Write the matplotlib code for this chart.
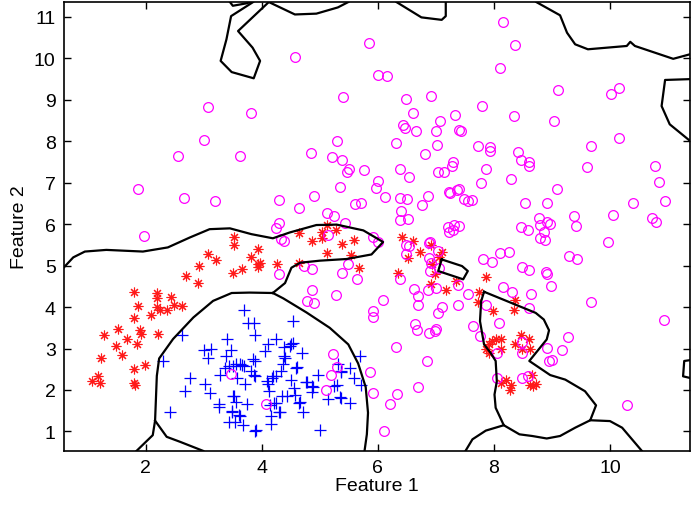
import matplotlib
matplotlib.use("Agg")
import matplotlib.pyplot as plt
import numpy as np

matplotlib.rcParams["font.family"] = ["Liberation Sans", "DejaVu Sans"]

# Class 1 (blue +)
blue_x = [3.70, 2.63, 2.30, 2.77, 2.68, 2.41, 3.00, 3.12, 3.07, 3.28, 3.02, 3.10, 3.26, 3.26,
          3.40, 3.46, 3.38, 3.43, 3.51, 3.57, 3.49, 3.52, 3.55, 3.61, 3.44, 3.54, 3.68, 3.63,
          3.69, 3.71, 3.75, 3.76, 3.87, 3.88, 3.88, 3.88, 3.81, 3.90, 4.06, 4.11, 4.24, 4.09,
          4.11, 4.13, 4.16, 4.16, 4.31, 4.24, 4.18, 4.24, 4.33, 4.34, 4.43, 4.38, 4.38, 4.36,
          4.48, 4.53, 4.51, 4.53, 4.59, 4.51, 4.56, 4.57, 4.66, 4.71, 4.70, 4.76, 4.86, 4.86,
          4.97, 5.00, 5.14, 5.25, 5.34, 5.36, 5.69, 5.52, 5.37, 5.31, 5.59, 5.71, 5.30, 5.37,
          5.52, 4.89, 4.40, 3.36, 3.55, 3.65, 3.85, 3.87, 3.51, 3.49, 3.62, 3.88, 4.20, 4.14,
          4.21, 4.30, 4.60, 4.64, 4.78]
blue_y = [3.94, 3.32, 2.70, 2.28, 1.97, 1.48, 2.97, 2.99, 2.78, 2.36, 2.14, 1.92, 1.66, 1.58,
          3.23, 2.97, 2.82, 2.57, 2.58, 2.29, 1.46, 1.86, 1.70, 1.40, 1.22, 1.22, 1.15, 2.62,
          2.58, 2.14, 1.66, 3.61, 3.61, 3.32, 2.70, 2.34, 2.46, 1.03, 2.94, 3.12, 3.24, 2.22,
          2.15, 1.98, 1.38, 1.18, 1.46, 1.68, 2.30, 2.34, 2.46, 1.86, 1.86, 3.04, 2.82, 2.62,
          3.06, 3.67, 3.10, 3.13, 2.54, 2.24, 2.04, 1.88, 1.71, 1.47, 2.89, 2.20, 2.09, 1.94,
          2.36, 1.03, 1.78, 2.09, 1.82, 2.44, 2.82, 2.53, 2.45, 2.62, 2.29, 2.11, 2.11, 1.81,
          1.68, 2.07, 2.77, 2.53, 2.62, 2.60, 2.74, 2.37, 1.85, 1.49, 1.37, 1.02, 2.33, 1.63,
          1.69, 1.47, 2.55, 1.69, 2.19]

# Class 2 (red *)
red_x = [3.07, 3.21, 2.91, 2.69, 2.90, 1.79, 2.20, 2.19, 2.44, 1.86, 2.19, 2.09, 2.25, 2.37,
         2.49, 2.62, 1.80, 1.52, 1.90, 1.92, 2.21, 1.28, 1.68, 1.49, 1.84, 1.59, 1.22, 1.98,
         1.79, 1.17, 1.07, 1.21, 1.80, 1.81, 3.52, 3.52, 3.94, 3.81, 3.97, 3.94, 3.65, 3.51,
         4.26, 4.64, 4.64, 4.87, 5.03, 5.03, 5.12, 5.27, 5.38, 5.59, 5.12, 5.53, 5.68, 3.94,
         6.41, 6.60, 6.72, 6.52, 6.91, 7.10, 7.06, 6.94, 6.98, 6.91, 7.17, 7.34, 6.34, 7.87,
         7.75, 7.72, 7.99, 8.37, 8.35, 7.97, 8.03, 8.12, 7.92, 7.86, 7.91, 8.13, 8.46, 8.61,
         8.37, 8.49, 8.62, 8.13, 8.21, 8.29, 8.28, 8.65, 8.63, 8.72, 8.68]
red_y = [5.29, 5.13, 4.99, 4.75, 4.57, 4.37, 4.34, 4.21, 4.24, 4.02, 4.00, 3.82, 3.92, 3.92,
         4.05, 4.02, 3.74, 3.46, 3.44, 3.34, 3.35, 3.32, 3.22, 3.07, 3.11, 2.84, 2.76, 2.60,
         2.50, 2.33, 2.21, 2.16, 2.17, 2.11, 5.69, 5.49, 5.39, 5.20, 5.07, 4.97, 4.92, 4.83,
         5.04, 5.07, 5.78, 5.59, 5.81, 5.66, 5.98, 5.87, 5.52, 5.63, 5.31, 5.25, 4.95, 5.03,
         5.69, 5.59, 5.32, 5.19, 5.49, 5.32, 5.21, 5.03, 4.80, 4.55, 4.41, 4.63, 4.83, 4.72,
         4.37, 4.13, 3.90, 4.17, 3.94, 3.19, 3.22, 3.24, 3.10, 2.98, 2.90, 2.98, 3.32, 3.24,
         3.11, 2.99, 2.98, 2.16, 2.23, 2.13, 2.01, 2.37, 2.12, 2.14, 2.10]

# Class 3 (magenta o)
mag_x = [3.07, 3.00, 2.56, 1.86, 2.66, 3.19, 4.57, 5.40, 3.82, 5.30, 4.84, 5.21, 5.38, 5.46,
         3.62, 5.34, 4.90, 4.29, 4.64, 5.13, 5.24, 5.43, 4.24, 4.30, 4.33, 4.38, 5.14, 1.97,
         5.84, 6.00, 6.15, 5.50, 5.76, 6.00, 5.96, 5.60, 5.71, 8.15, 8.37, 8.10, 6.49, 6.91,
         6.61, 7.33, 7.80, 8.35, 9.10, 9.03, 10.02, 10.16, 10.16, 9.68, 6.44, 6.47, 6.65, 7.07,
         7.01, 7.40, 7.44, 6.31, 7.02, 6.81, 7.73, 7.93, 7.93, 8.41, 8.47, 8.61, 8.61, 9.61,
         10.78, 10.85, 10.95, 10.39, 10.05, 10.72, 10.80, 9.97, 9.08, 8.30, 7.86, 7.77, 7.30, 7.28,
         7.04, 7.14, 6.53, 6.38, 6.12, 6.38, 6.51, 6.39, 6.38, 6.52, 6.76, 6.87, 7.22, 7.24,
         7.36, 7.39, 7.48, 7.56, 7.63, 5.92, 6.00, 7.20, 7.31, 7.39, 7.22, 7.30, 6.90, 6.53,
         8.47, 8.59, 8.78, 8.91, 8.97, 8.79, 8.86, 8.80, 8.88, 9.38, 9.41, 8.53, 8.91, 7.81,
         7.97, 8.10, 8.26, 9.29, 9.43, 4.30, 4.72, 4.87, 5.49, 5.39, 5.64, 4.87, 5.28, 4.78,
         4.90, 5.92, 5.92, 5.23, 5.29, 5.20, 5.10, 5.86, 5.92, 4.08, 3.47, 6.48, 6.49, 6.88,
         7.03, 6.88, 6.91, 6.90, 7.05, 6.38, 8.48, 8.61, 7.38, 6.86, 7.00, 6.62, 6.70, 6.70,
         6.09, 7.56, 7.38, 7.11, 7.03, 7.86, 8.15, 8.32, 8.64, 8.61, 6.64, 6.68, 6.88, 6.99,
         7.01, 7.64, 7.76, 8.09, 6.31, 6.84, 6.70, 6.33, 6.21, 6.10, 8.05, 8.49, 8.05, 8.49,
         8.58, 8.49, 8.91, 9.00, 8.95, 9.17, 9.28, 9.68, 10.93, 10.30, 8.91, 8.99, 8.90]
mag_y = [8.82, 8.03, 7.65, 6.84, 6.63, 6.55, 10.04, 9.08, 8.68, 8.01, 7.71, 7.62, 7.54, 7.25,
         7.65, 6.89, 6.67, 6.59, 6.40, 6.28, 6.20, 6.04, 5.92, 6.02, 5.65, 5.60, 5.73, 5.71,
         10.37, 9.61, 9.58, 7.33, 7.30, 7.05, 6.87, 6.48, 6.50, 10.88, 10.33, 9.78, 9.02, 9.10,
         8.69, 8.64, 8.86, 8.60, 9.24, 8.49, 9.14, 9.28, 8.09, 7.89, 8.40, 8.33, 8.25, 8.49,
         8.25, 8.27, 8.25, 7.95, 7.90, 7.69, 7.89, 7.87, 7.77, 7.74, 7.54, 7.51, 7.41, 7.39,
         7.41, 7.03, 6.56, 6.51, 6.22, 6.16, 6.06, 5.58, 6.86, 7.09, 7.33, 6.99, 7.49, 7.41,
         7.27, 7.27, 7.13, 7.33, 6.66, 6.63, 6.60, 6.32, 6.10, 6.12, 6.46, 6.67, 6.78, 6.75,
         6.83, 6.84, 6.60, 6.56, 6.58, 5.70, 5.56, 5.93, 5.99, 5.95, 5.80, 5.85, 5.57, 5.48,
         5.94, 5.86, 6.16, 6.06, 6.00, 5.98, 5.80, 5.66, 5.62, 6.20, 5.96, 6.51, 6.51, 5.16,
         5.09, 5.30, 5.34, 5.24, 5.17, 4.81, 4.99, 4.92, 5.04, 4.83, 4.67, 4.41, 4.29, 4.14,
         4.10, 3.90, 3.76, 2.86, 2.56, 2.36, 2.01, 2.44, 1.92, 1.67, 2.39, 5.51, 5.29, 5.55,
         5.35, 5.19, 5.07, 4.88, 4.95, 4.67, 4.97, 4.89, 4.53, 4.41, 4.46, 4.43, 4.26, 4.04,
         4.17, 4.32, 4.04, 4.00, 3.85, 4.06, 4.49, 4.37, 4.32, 3.98, 3.60, 3.44, 3.38, 3.42,
         3.48, 3.54, 3.30, 3.62, 3.04, 2.71, 2.07, 1.91, 1.67, 1.02, 2.90, 2.90, 2.29, 2.29,
         2.33, 3.15, 3.01, 2.72, 2.70, 2.97, 3.29, 4.13, 3.68, 1.64, 4.79, 4.51, 4.85]

# Decision boundary polylines (feature 1, feature 2)
boundaries = [
    # upper edge of the red band and its tongue
    [(0.59, 4.96), (0.75, 5.20), (0.95, 5.34), (1.32, 5.38), (1.95, 5.34), (2.38, 5.44),
     (2.76, 5.68), (3.10, 5.88), (3.45, 5.90), (3.82, 5.76), (4.19, 5.66), (4.48, 5.80),
     (4.94, 5.98), (5.29, 5.99), (5.75, 5.85), (6.09, 5.57), (5.89, 5.27), (5.46, 5.16),
     (5.00, 5.12), (4.66, 5.07), (4.51, 4.95), (4.40, 4.58), (4.19, 4.34)],
    # blue region, top and left
    [(4.19, 4.34), (3.79, 4.35), (3.48, 4.34), (3.16, 4.15), (2.82, 3.75), (2.47, 3.23),
     (2.23, 2.76), (2.19, 2.34), (2.16, 1.26), (2.12, 0.91), (1.84, 0.53)],
    [(2.16, 1.26), (2.36, 0.87), (2.59, 0.75), (2.99, 0.53)],
    # blue region, right
    [(4.19, 4.34), (4.37, 4.21), (4.77, 3.87), (5.17, 3.50), (5.49, 3.10), (5.66, 2.64),
     (5.79, 2.07), (5.83, 1.45), (5.81, 0.93), (5.77, 0.53)],
    # small patch near (7, 5)
    [(7.10, 5.15), (7.45, 4.99), (7.55, 4.87), (7.47, 4.67), (7.04, 4.87), (7.10, 5.15)],
    # red patch on the right
    [(7.83, 4.37), (8.72, 3.86), (8.86, 3.70), (8.95, 3.44), (8.91, 3.22), (8.61, 2.70),
     (8.97, 2.36), (9.23, 2.25), (9.57, 1.97), (9.76, 1.63), (9.66, 1.27), (9.40, 1.09),
     (9.14, 0.89), (8.91, 0.83), (8.66, 0.89), (8.44, 0.93), (8.17, 1.15), (8.03, 1.57),
     (8.01, 1.89), (8.05, 2.21), (8.03, 2.70), (7.94, 2.90), (7.83, 3.10), (7.76, 3.66),
     (7.78, 4.14), (7.83, 4.37)],
    [(8.17, 1.15), (7.86, 1.02), (7.63, 0.81), (7.51, 0.53)],
    [(9.66, 1.27), (10.00, 1.25), (10.21, 1.09), (10.55, 0.53)],
    # top edge pockets
    [(3.45, 11.36), (3.50, 11.27), (3.74, 11.33), (3.80, 11.36)],
    [(3.85, 11.36), (3.47, 11.02), (3.39, 10.46), (3.29, 9.94), (3.48, 9.67), (3.86, 9.52),
     (3.97, 9.94), (3.84, 10.26), (3.59, 10.66), (4.12, 11.36)],
    [(4.12, 11.36), (4.57, 11.06), (4.94, 11.08), (5.31, 11.23), (5.49, 11.36)],
    [(6.32, 11.36), (6.75, 10.99), (7.10, 10.93), (7.17, 11.02), (7.17, 11.36)],
    [(8.73, 11.36), (9.14, 11.04), (9.26, 10.62), (9.40, 10.34), (9.62, 10.22), (10.29, 10.30),
     (10.35, 10.40), (10.43, 10.30), (11.09, 9.99), (11.38, 10.10)],
    [(11.38, 9.50), (10.95, 9.48), (10.89, 8.85), (11.03, 8.41), (11.38, 8.01)],
    [(11.38, 2.72), (11.28, 2.70), (11.26, 2.33), (11.38, 2.29)],
]

fig = plt.figure(figsize=(6.91, 5.06), dpi=100)
ax = fig.add_axes([0.0926, 0.1077, 0.906, 0.8863])

ax.plot(blue_x, blue_y, linestyle="none", marker="+", color="#0000ff",
        markersize=8, markeredgewidth=0.9)
ax.plot(red_x, red_y, linestyle="none", marker=(8, 2, 0), color="#ff1a1a",
        markersize=7, markeredgewidth=0.8)
ax.plot(mag_x, mag_y, linestyle="none", marker="o", markerfacecolor="none",
        markeredgecolor="#ff00ff", markersize=7, markeredgewidth=0.9)

for line in boundaries:
    xs, ys = zip(*line)
    ax.plot(xs, ys, color="black", linewidth=1.6)

ax.set_xlim(0.59, 11.38)
ax.set_ylim(0.54, 11.36)
ax.set_xticks([2, 4, 6, 8, 10])
ax.set_yticks(range(1, 12))
ax.tick_params(direction="in", length=5, width=1, top=True, right=True,
               labelsize=14, pad=6)
for s in ax.spines.values():
    s.set_linewidth(1.2)

ax.set_xlabel("Feature 1", fontsize=14, labelpad=1)
ax.set_ylabel("Feature 2", fontsize=14, labelpad=4)

fig.savefig("out.png", dpi=100)
